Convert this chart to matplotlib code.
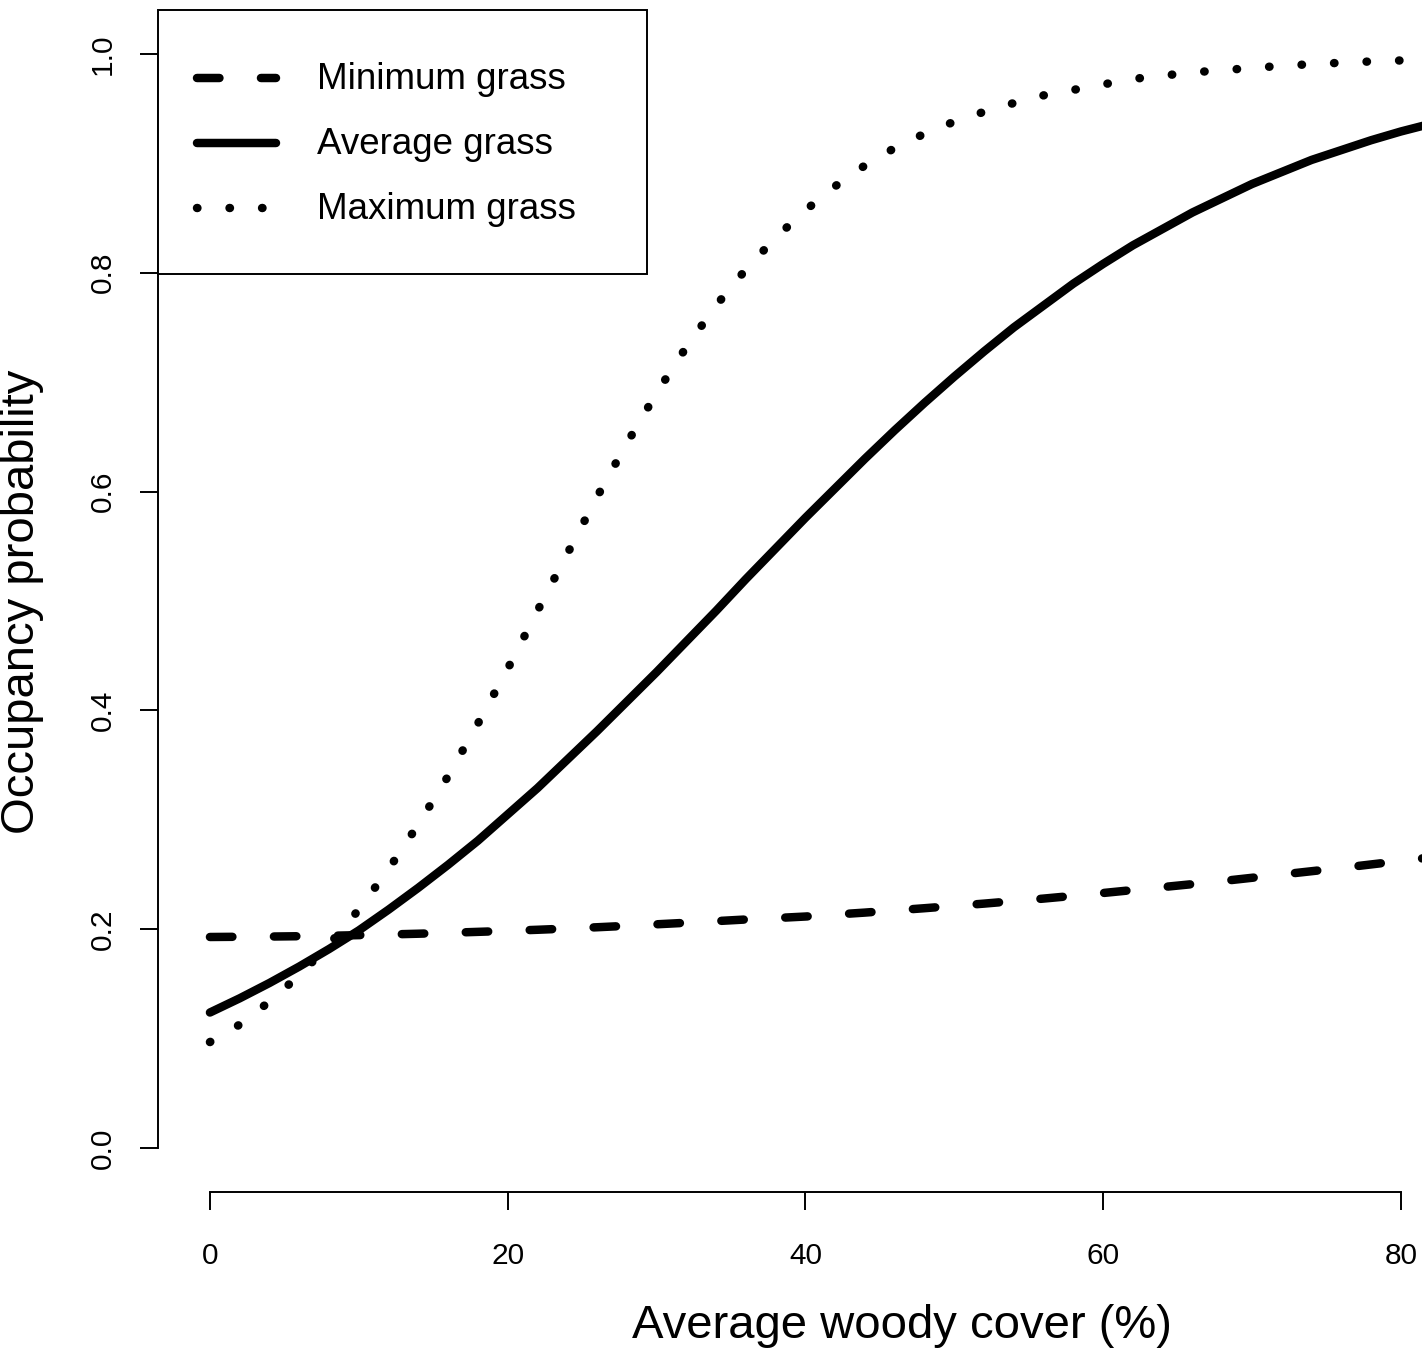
import matplotlib
matplotlib.use('Agg')
import matplotlib.pyplot as plt
import numpy as np

plt.rcParams['font.family'] = ['Liberation Sans', 'DejaVu Sans']

# values
woody_cover = list(range(0, 86, 2))

min_grass = [0.1930, 0.1932, 0.1934, 0.1937, 0.1941, 0.1947, 0.1953, 0.1960,
             0.1968, 0.1977, 0.1986, 0.1996, 0.2007, 0.2019, 0.2032, 0.2046,
             0.2060, 0.2075, 0.2090, 0.2103, 0.2117, 0.2135, 0.2153, 0.2173,
             0.2193, 0.2214, 0.2235, 0.2258, 0.2281, 0.2306, 0.2332, 0.2359,
             0.2386, 0.2413, 0.2441, 0.2471, 0.2501, 0.2531, 0.2561, 0.2593,
             0.2625, 0.2657, 0.2690]

avg_grass = [0.124, 0.137, 0.151, 0.166, 0.182, 0.199, 0.218, 0.238,
             0.259, 0.281, 0.305, 0.329, 0.355, 0.381, 0.408, 0.435,
             0.463, 0.491, 0.520, 0.548, 0.576, 0.603, 0.630, 0.656,
             0.681, 0.705, 0.728, 0.750, 0.770, 0.790, 0.808, 0.825,
             0.840, 0.855, 0.868, 0.881, 0.892, 0.903, 0.912, 0.921,
             0.929, 0.936, 0.942]

max_grass = [0.097, 0.113, 0.134, 0.158, 0.186, 0.218, 0.255, 0.296,
             0.340, 0.388, 0.438, 0.491, 0.543, 0.595, 0.644, 0.690,
             0.732, 0.770, 0.803, 0.832, 0.857, 0.879, 0.898, 0.914,
             0.927, 0.938, 0.947, 0.955, 0.962, 0.967, 0.972, 0.977,
             0.980, 0.983, 0.985, 0.987, 0.989, 0.9905, 0.9918, 0.9930,
             0.9939, 0.9947, 0.9954]

labels = ['Minimum grass', 'Average grass', 'Maximum grass']
x_ticks = [0, 20, 40, 60, 80]
y_ticks = [0.0, 0.2, 0.4, 0.6, 0.8, 1.0]
y_tick_labels = ['0.0', '0.2', '0.4', '0.6', '0.8', '1.0']

W, H = 1422, 1348
fig = plt.figure(figsize=(W / 100, H / 100), dpi=100)
ax = fig.add_axes([158 / W, 1 - 1192 / H, (W - 158) / W, 1182 / H])

lw = 6.1
ax.plot(woody_cover, min_grass, color='black', lw=lw, dashes=(2.65, 4.9),
        dash_capstyle='round', label=labels[0])
ax.plot(woody_cover, avg_grass, color='black', lw=lw,
        solid_capstyle='round', label=labels[1])
ax.plot(woody_cover, max_grass, color='black', lw=lw, dashes=(0.05, 3.79),
        dash_capstyle='round', label=labels[2])

ax.set_xlim(-3.49, 81.42)
ax.set_ylim(-0.04, 1.04)

# R style axes
for s in ['top', 'right']:
    ax.spines[s].set_visible(False)
ax.spines['left'].set_bounds(0, 1)
ax.spines['bottom'].set_bounds(0, 80)
ax.spines['left'].set_linewidth(1.4)
ax.spines['bottom'].set_linewidth(1.4)

ax.set_xticks(x_ticks)
ax.set_xticklabels([str(t) for t in x_ticks])
ax.set_yticks(y_ticks)
ax.set_yticklabels(y_tick_labels, rotation=90, va='center')
ax.tick_params(axis='both', direction='out', length=13.3, width=1.4,
               labelsize=21.5)
ax.tick_params(axis='x', pad=23)
ax.tick_params(axis='y', pad=16.5)

leg = ax.legend(loc='upper left', bbox_to_anchor=(0, 1, 489 / 1264, 0),
                mode='expand', borderaxespad=0, fontsize=26.5,
                handlelength=2.15, handleheight=1.96, handletextpad=1.11,
                labelspacing=0.25, borderpad=1.06, fancybox=False,
                framealpha=1, edgecolor='black')
leg.get_frame().set_linewidth(1.4)
# line samples sit at the middle of the capitals, as in R
for h in leg.legend_handles:
    h.set_ydata(np.asarray(h.get_ydata()) - 6.5)

fig.text(902 / W, 1 - 1338 / H, 'Average woody cover (%)', ha='center',
         va='baseline', fontsize=34)
fig.text(34 / W, 1 - 602 / H, 'Occupancy probability', rotation=90,
         rotation_mode='anchor', ha='center', va='baseline', fontsize=34)

fig.savefig('out.png', dpi=100)
